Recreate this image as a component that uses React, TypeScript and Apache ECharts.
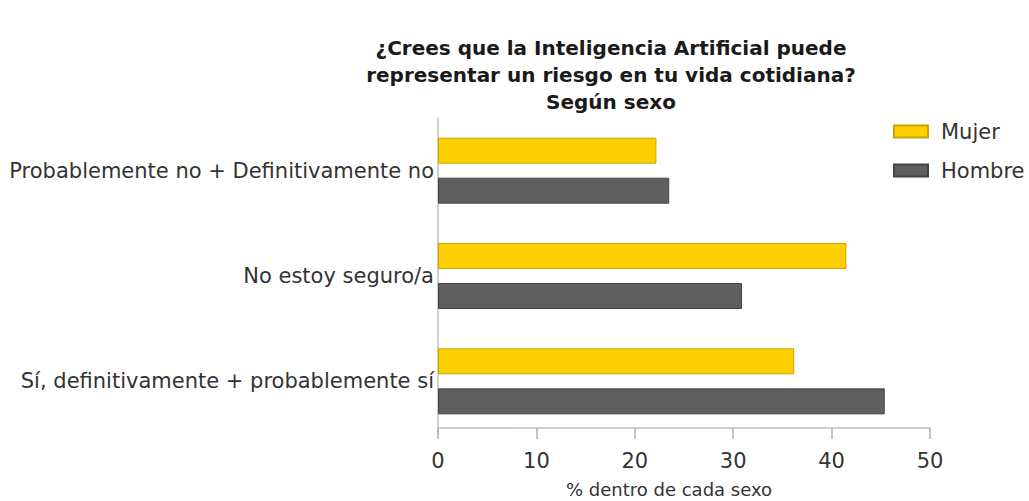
import React, { useEffect, useRef } from "react";
import * as echarts from "echarts";

const categories = [
  "Probablemente no + Definitivamente no",
  "No estoy seguro/a",
  "Sí, definitivamente + probablemente sí",
];
const mujer = [22.2, 41.5, 36.2];
const hombre = [23.5, 30.9, 45.4];
const xTicks = [0, 10, 20, 30, 40, 50];

const FONT = "'DejaVu Sans', sans-serif";

export default function App() {
  const ref = useRef<HTMLDivElement>(null);
  useEffect(() => {
    if (!ref.current) return;
    const chart = echarts.init(ref.current, undefined, { renderer: "svg" });
    chart.setOption({
      animation: false,
      backgroundColor: "#ffffff",
      textStyle: { fontFamily: FONT },
      title: {
        text: "¿Crees que la Inteligencia Artificial puede\nrepresentar un riesgo en tu vida cotidiana?\nSegún sexo",
        left: 606,
        top: 29,
        textAlign: "center",
        textStyle: {
          fontFamily: FONT,
          fontSize: 20,
          fontWeight: "bold",
          color: "#1a1a1a",
          lineHeight: 27,
        },
      },
      legend: {
        orient: "vertical",
        left: 888,
        top: 116,
        itemWidth: 34,
        itemHeight: 12,
        itemGap: 18,
        icon: "rect",
        textStyle: { fontFamily: FONT, fontSize: 21, color: "#333", padding: [0, 0, 0, 8] },
        data: ["Mujer", "Hombre"],
      },
      grid: { left: 438, right: 99, top: 118, height: 316, outerBoundsMode: "none" },
      xAxis: {
        type: "value",
        min: 0,
        max: 50,
        interval: 10,
        offset: -6,
        name: "% dentro de cada sexo",
        nameLocation: "middle",
        nameGap: 52,
        nameTextStyle: { fontFamily: FONT, fontSize: 18, color: "#333", padding: [0, 30, 0, 0] },
        axisLine: { show: true, lineStyle: { color: "#c0c0c0", width: 1.5 } },
        axisTick: { show: true, length: 11, lineStyle: { color: "#b0b0b0", width: 1.5 } },
        axisLabel: {
          fontFamily: FONT,
          fontSize: 21,
          color: "#333",
          margin: 22,
          formatter: (v: number) => (xTicks.includes(v) ? String(v) : ""),
        },
        splitLine: { show: false },
      },
      yAxis: {
        type: "category",
        inverse: true,
        data: categories,
        axisLine: { show: true, lineStyle: { color: "#c0c0c0", width: 1.5 } },
        axisTick: { show: false },
        axisLabel: { fontFamily: FONT, fontSize: 21, color: "#333", margin: 4 },
      },
      series: [
        {
          name: "Mujer",
          type: "bar",
          data: mujer,
          barWidth: 26,
          barGap: "54%",
          itemStyle: { color: "#ffd000", borderColor: "#c9a400", borderWidth: 1 },
        },
        {
          name: "Hombre",
          type: "bar",
          data: hombre,
          barWidth: 26,
          itemStyle: { color: "#5f5f5f", borderColor: "#444444", borderWidth: 1 },
        },
      ],
    });
    return () => chart.dispose();
  }, []);
  return <div ref={ref} style={{ width: 1029, height: 501, position: "absolute", left: 0, top: 0 }} />;
}
